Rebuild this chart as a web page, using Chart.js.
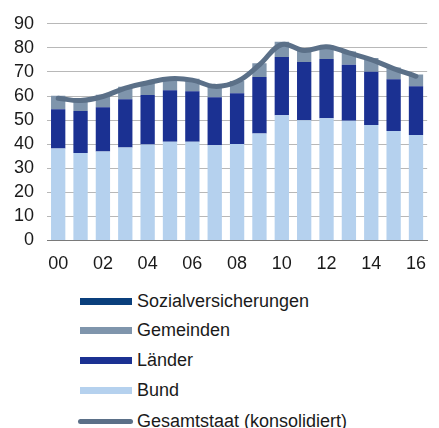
<!DOCTYPE html>
<html>
<head>
<meta charset="utf-8">
<script src="https://cdn.jsdelivr.net/npm/chart.js@4"></script>
<style>
  html, body { margin: 0; padding: 0; background: #fff; }
  body { width: 439px; height: 428px; position: relative; overflow: hidden; font-family: "Liberation Sans", Arial, sans-serif; }
  #wrap { position: absolute; left: 0; top: 0; width: 439px; height: 288px; }
  #legend { position: absolute; left: 0; top: 0; width: 439px; }
  .lg { position: absolute; left: 137px; font-size: 18px; line-height: 20px; color: #1a1a1a; white-space: nowrap; }
  .sw { position: absolute; left: 80px; width: 52px; height: 7px; }
  .ln { position: absolute; left: 78px; width: 55px; height: 5px; border-radius: 3px; }
</style>
</head>
<body>
<div id="wrap"><canvas id="c"></canvas></div>
<div id="legend">
  <div class="sw" style="top:298px;background:#0a3f7c"></div><div class="lg" style="top:291px">Sozialversicherungen</div>
  <div class="sw" style="top:327px;background:#7f95ac"></div><div class="lg" style="top:320px">Gemeinden</div>
  <div class="sw" style="top:357px;background:#1b3192"></div><div class="lg" style="top:350px">Länder</div>
  <div class="sw" style="top:387px;background:#b5d1ee"></div><div class="lg" style="top:380px">Bund</div>
  <div class="ln" style="top:419px;background:#5b7088"></div><div class="lg" style="top:411px">Gesamtstaat (konsolidiert)</div>
</div>
<script>
const years = ['00','01','02','03','04','05','06','07','08','09','10','11','12','13','14','15','16'];
const bund      = [38.2, 36.3, 36.9, 38.6, 39.8, 41.0, 41.0, 39.5, 40.1, 44.4, 52.0, 49.9, 50.8, 49.7, 48.0, 45.5, 43.8];
const laender   = [16.3, 17.5, 18.4, 20.1, 20.6, 21.4, 21.0, 20.0, 21.0, 23.5, 24.2, 24.2, 24.6, 23.3, 22.1, 21.5, 20.2];
const gemeinden = [5.6, 5.0, 5.2, 5.1, 5.4, 5.2, 5.2, 5.0, 5.1, 5.7, 6.3, 5.1, 5.5, 5.5, 5.7, 4.8, 4.9];
const sozial    = [0, 0, 0, 0, 0, 0, 0, 0, 0, 0, 0, 0, 0, 0, 0, 0, 0];
const gesamt    = [59.1, 58.1, 59.8, 63.3, 65.5, 67.2, 66.6, 64.0, 66.0, 73.0, 81.4, 78.9, 80.5, 77.9, 75.1, 71.4, 68.2];

const barOpts = { categoryPercentage: 1, barPercentage: 0.64, borderWidth: 0, order: 1, stack: 'bars' };

new Chart(document.getElementById('c'), {
  type: 'bar',
  data: {
    labels: years,
    datasets: [
      { label: 'Bund', data: bund, backgroundColor: '#b5d1ee', ...barOpts },
      { label: 'Länder', data: laender, backgroundColor: '#1b3192', ...barOpts },
      { label: 'Gemeinden', data: gemeinden, backgroundColor: '#7f95ac', ...barOpts },
      { label: 'Sozialversicherungen', data: sozial, backgroundColor: '#0a3f7c', ...barOpts },
      { type: 'line', label: 'Gesamtstaat (konsolidiert)', data: gesamt, stack: 'line', order: 0,
        borderColor: '#5b7088', borderWidth: 5, tension: 0.4, pointRadius: 0, fill: false,
        borderCapStyle: 'round', borderJoinStyle: 'round' }
    ]
  },
  options: {
    responsive: true,
    maintainAspectRatio: false,
    animation: false,
    layout: { padding: { top: 15, right: 0, bottom: 0, left: 0 } },
    plugins: { legend: { display: false }, tooltip: { enabled: false } },
    scales: {
      x: {
        stacked: true,
        grid: { display: false, drawTicks: false },
        border: { display: true, color: '#7a7a7a', width: 1 },
        ticks: {
          color: '#1a1a1a', font: { family: 'Liberation Sans', size: 18 }, padding: 13,
          maxRotation: 0, autoSkip: false,
          callback: (v, i) => (i % 2 === 0 ? years[i] : '')
        }
      },
      y: {
        stacked: true,
        min: 0, max: 90,
        afterFit: (s) => { s.width = 47; },
        grid: { color: '#b8b8b8', lineWidth: 1, drawTicks: false },
        border: { display: false },
        ticks: { stepSize: 10, autoSkip: false, color: '#1a1a1a', font: { family: 'Liberation Sans', size: 18 }, padding: 13 }
      }
    }
  }
});
</script>
</body>
</html>
